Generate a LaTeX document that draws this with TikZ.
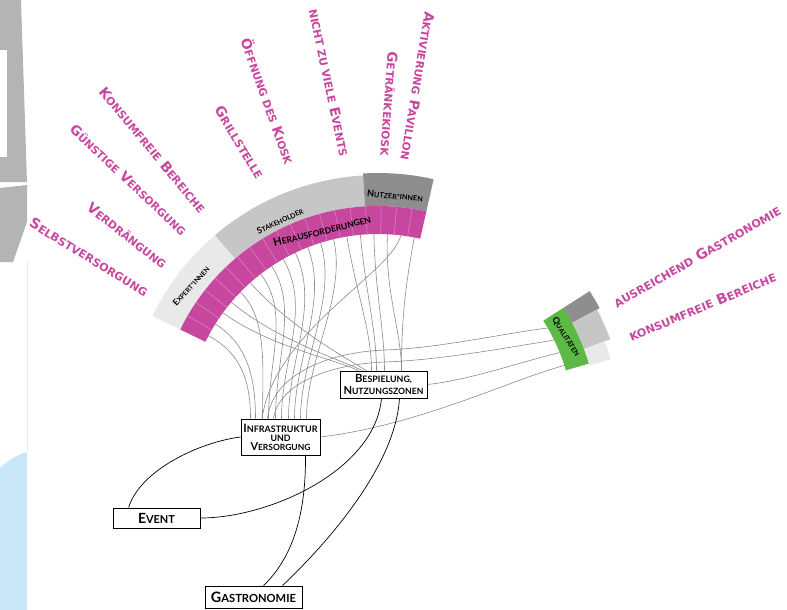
\documentclass[tikz,border=0pt]{standalone}
\usepackage{fontspec}
\usetikzlibrary{calc}
\newfontfamily\labfont{DejaVu Sans}
\newfontfamily\boxfont{Lato}
\definecolor{mag}{HTML}{C8479E}
\definecolor{magsep}{HTML}{D98ABF}
\definecolor{gLight}{HTML}{E8E9E8}
\definecolor{gMid}{HTML}{C6C6C6}
\definecolor{gDark}{HTML}{8E8E8E}
\definecolor{qgreen}{HTML}{5CB946}
\definecolor{connc}{HTML}{8A8A8A}
\definecolor{mapgray}{HTML}{B4B4B4}
\definecolor{mapblue}{HTML}{C9E7F8}
\newcommand\Csc[2]{#1\scalebox{0.78}{#2}}
\newcommand\fw[2]{\resizebox{#1}{!}{#2}}
\newcommand\annsec[5]{\fill[#1] ($(C)+(-#2:#4)$) arc[start angle=-#2,end angle=-#3,radius=#4] -- ($(C)+(-#3:#5)$) arc[start angle=-#3,end angle=-#2,radius=#5] -- cycle;}
\newcommand\lnk[5]{\draw[conn] (#1) .. controls ($(#1)!#3!(C)$) and ($(#2)+(#4,-#5)$) .. (#2);}
\pgfdeclarelayer{bg}
\pgfsetlayers{bg,main}
\tikzset{
 conn/.style={draw=connc, line width=0.6pt},
 blk/.style={draw=black, line width=0.7pt},
 mlab/.style={text=mag, font=\labfont\bfseries, inner sep=0pt},
 rlab/.style={text=black, font=\boxfont\bfseries, inner sep=0pt},
 box/.style={draw=black, line width=0.8pt, fill=white, inner sep=0pt, align=center, font=\boxfont\bfseries\fontsize{9}{12}\selectfont},
}
\begin{document}
\begin{tikzpicture}[x=1pt,y=-1pt]
\useasboundingbox (0,0) rectangle (787,610);
\coordinate (C) at (378,426);
% background map fragments
\fill[mapgray] (0,0) -- (21,0) -- (27,182) -- (0,182) -- cycle;
\fill[white] (0,50) rectangle (7,157);
\fill[mapgray] (0,188) -- (27,185) -- (27,222) -- (13,262) -- (0,262) -- cycle;
\fill[mapblue] (0,468) .. controls (10,458) and (20,454) .. (27,452) -- (27,610) -- (0,610) -- cycle;
\draw[gLight, line width=0.6pt] (27,262) -- (27,452);
% main ring
\annsec{gLight}{130.5}{154}{220}{251}
\annsec{gMid}{93.4}{130.5}{220}{251}
\annsec{gDark}{77.3}{93.4}{220}{253}
\annsec{mag}{77.3}{154}{192}{220}
\foreach \k in {1,...,18}{\draw[magsep, line width=0.5pt] ($(C)+({-154+\k*4.05}:192)$) -- ($(C)+({-154+\k*4.05}:220)$);}
\foreach \k in {0,...,18}{\coordinate (m\k) at ($(C)+({-154+(\k+0.5)*4.05}:192)$);}
% right ring
\annsec{qgreen}{16.5}{32.5}{196}{220}
\annsec{gDark}{28}{32.5}{220}{251}
\annsec{gMid}{20.5}{28}{220}{248}
\annsec{gLight}{16}{20.5}{220}{242}
\coordinate (q30) at ($(C)+(-30:196)$);
\coordinate (q26) at ($(C)+(-26:196)$);
\coordinate (q22) at ($(C)+(-22:196)$);
\coordinate (q18) at ($(C)+(-18:196)$);
% ring labels
\node[rlab, rotate=48] (expl) at (191,286) {\fw{50pt}{\Csc{E}{XPERT*INNEN}}};
\node[rlab, rotate=25] (stl) at (280,221) {\fw{50pt}{\Csc{S}{TAKEHOLDER}}};
\node[rlab, rotate=14] (hfl) at (322,231) {\fw{100pt}{\Csc{H}{ERAUSFORDERUNGEN}}};
\node[rlab, rotate=-5] (nul) at (395,196) {\fw{56pt}{\Csc{N}{UTZER*INNEN}}};
\node[rlab, rotate=-57] (qul) at (566,337) {\fw{44pt}{\Csc{Q}{UALITÄTEN}}};
% magenta labels
\node[mlab, rotate=-31.4] (l1) at (89,257) {\fw{136pt}{\Csc{S}{ELBSTVERSORGUNG}}};
\node[mlab, rotate=-38.2] (l2) at (127,235.5) {\fw{97pt}{\Csc{V}{ERDRÄNGUNG}}};
\node[mlab, rotate=-43.2] (l3) at (128.5,180) {\fw{154pt}{\Csc{G}{ÜNSTIGE} \Csc{V}{ERSORGUNG}}};
\node[mlab, rotate=-50.2] (l4) at (152.5,150) {\fw{158pt}{\Csc{K}{ONSUMFREIE} \Csc{B}{EREICHE}}};
\node[mlab, rotate=-59] (l5) at (239.5,142.5) {\fw{82pt}{\Csc{G}{RILLSTELLE}}};
\node[mlab, rotate=-70.4] (l6) at (268.5,101) {\fw{133pt}{\Csc{Ö}{FFNUNG DES} \Csc{K}{IOSK}}};
\node[mlab, rotate=-78] (l7) at (329,82.5) {\fw{150pt}{\Csc{}{NICHT ZU VIELE} \Csc{E}{VENTS}}};
\node[mlab, rotate=-94.2] (l8) at (389,104) {\fw{104pt}{\Csc{G}{ETRÄNKEKIOSK}}};
\node[mlab, rotate=-99.3] (l9) at (417.5,86) {\fw{150pt}{\Csc{A}{KTIVIERUNG} \Csc{P}{AVILLON}}};
\node[mlab, rotate=29.7] (l10) at (697,256.5) {\fw{190pt}{\Csc{}{AUSREICHEND} \Csc{G}{ASTRONOMIE}}};
\node[mlab, rotate=22.6] (l11) at (702.5,306.5) {\fw{158pt}{\Csc{}{KONSUMFREIE} \Csc{B}{EREICHE}}};
% boxes
\node[box, minimum width=87pt, minimum height=27pt] (besp) at (383.5,384.5) {\fw{57pt}{\Csc{B}{ESPIELUNG,}}\\\fw{80pt}{\Csc{N}{UTZUNGSZONEN}}};
\node[box, minimum width=79pt, minimum height=36pt, font=\boxfont\bfseries\fontsize{8}{9}\selectfont] (infra) at (280.5,437) {\fw{74pt}{\Csc{I}{NFRASTRUKTUR}}\\\fw{20pt}{\Csc{}{UND}}\\\fw{60pt}{\Csc{V}{ERSORGUNG}}};
\node[box, minimum width=87pt, minimum height=20pt] (event) at (156.5,518) {\fw{37pt}{\Csc{E}{VENT}}};
\node[box, minimum width=97pt, minimum height=22pt] (gastro) at (253.5,597) {\fw{85pt}{\Csc{G}{ASTRONOMIE}}};
% targets on the box tops
\foreach \n/\o in {a/-30,b/-25,c/-18,d/-12,e/-5,f/1,g/8,h/14,i/20,j/26,k/-18.5,x/-13,y/-7}{\coordinate (I\n) at ($(infra.north)+(\o,0)$);}
\foreach \n/\o in {a/-25,b/-21,c/-17,d/-12,e/-7,f/1,g/18}{\coordinate (B\n) at ($(besp.north)+(\o,0)$);}
\coordinate (g1m) at (385,350);
\coordinate (g2m) at (385,362);
\begin{pgfonlayer}{bg}
% expert cells
\draw[conn] (m0) .. controls ($(m0)!0.2!(C)$) and ($(Ia)+(0,-35)$) .. (Ia);
\draw[conn] (m1) .. controls ($(m1)!0.2!(C)$) and ($(Ib)+(0,-40)$) .. (Ib);
\draw[conn] (m2) .. controls ($(m2)!0.3!(C)$) and ($(Ba)+(-25,-12)$) .. (Ba);
\draw[conn] (m3) .. controls ($(m3)!0.3!(C)$) and ($(Bb)+(-25,-12)$) .. (Bb);
\draw[conn] (m4) .. controls ($(m4)!0.2!(C)$) and ($(Ic)+(0,-50)$) .. (Ic);
\draw[conn] (m5) .. controls ($(m5)!0.3!(C)$) and ($(Bc)+(-25,-15)$) .. (Bc);
% stakeholder cells
\lnk{m6}{Id}{0.25}{0}{60}
\lnk{m7}{Ie}{0.25}{0}{60}
\lnk{m8}{If}{0.3}{0}{60}
\lnk{m9}{Ig}{0.3}{0}{60}
\lnk{m10}{Ih}{0.3}{0}{60}
\lnk{m11}{Ii}{0.3}{0}{60}
\lnk{m12}{Ij}{0.3}{0}{60}
\lnk{m13}{Bd}{0.3}{0}{40}
\lnk{m14}{Be}{0.3}{0}{40}
% user cells
\lnk{m15}{Bf}{0.3}{0}{40}
\lnk{m16}{Bg}{0.3}{0}{40}
\draw[conn] (m17) .. controls (390,275) and (275,330) .. (Ik);
\lnk{m18}{Bg}{0.3}{0}{40}
% lines to the qualities
\draw[conn] (Ix) .. controls ($(Ix)+(5,-45)$) and (330,352) .. (g1m) .. controls (440,348) and (500,334) .. (q30);
\draw[conn] (Iy) .. controls ($(Iy)+(5,-35)$) and (330,364) .. (g2m) .. controls (440,360) and (505,348) .. (q26);
\draw[conn] (besp.east) .. controls (470,380) and (520,362) .. (q22);
\draw[conn] (infra.east) .. controls (420,425) and (510,380) .. (q18);
\end{pgfonlayer}
% black connectors
\draw[blk] ([xshift=16pt]event.north west) .. controls (140,470) and (200,442) .. (infra.west);
\draw[blk] (event.east) .. controls (270,518) and (375,470) .. ([xshift=-2pt]besp.south);
\draw[blk] ([xshift=25pt]infra.south) .. controls (306,520) and (290,560) .. ([xshift=10pt]gastro.north);
\draw[blk] ([xshift=16pt]besp.south) .. controls (395,470) and (320,550) .. ([xshift=29pt]gastro.north);
\end{tikzpicture}
\end{document}
